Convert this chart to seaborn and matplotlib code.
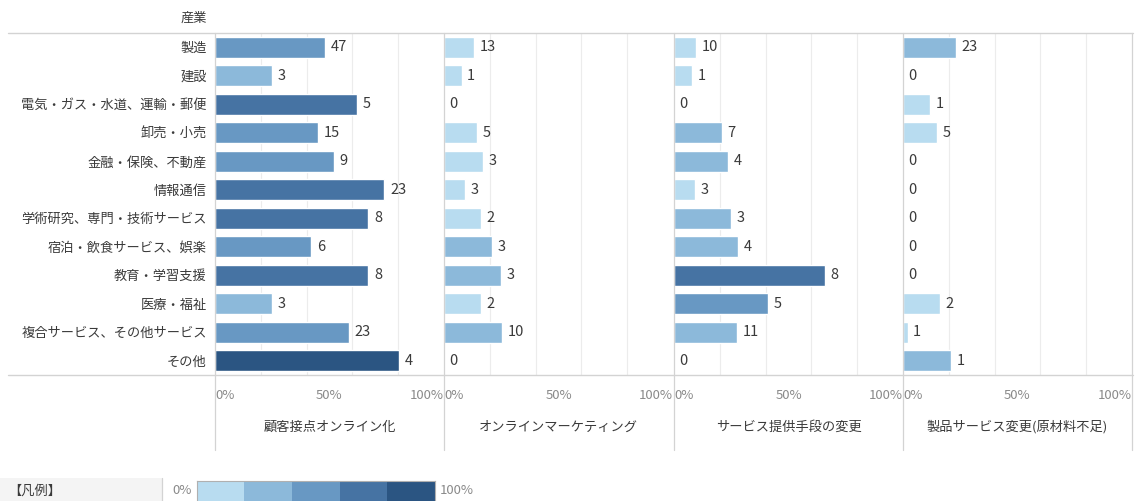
import matplotlib
matplotlib.use("Agg")
import matplotlib.pyplot as plt
from matplotlib.lines import Line2D
from matplotlib.patches import Rectangle
from matplotlib.colors import ListedColormap
import numpy as np
import pandas as pd
import seaborn as sns

sns.set_style("white")
plt.rcParams["font.family"] = ["Noto Sans CJK JP", "DejaVu Sans"]

# ---- data -------------------------------------------------------------
industries = [
    "製造", "建設", "電気・ガス・水道、運輸・郵便", "卸売・小売", "金融・保険、不動産",
    "情報通信", "学術研究、専門・技術サービス", "宿泊・飲食サービス、娯楽", "教育・学習支援",
    "医療・福祉", "複合サービス、その他サービス", "その他",
]
panel_titles = ["顧客接点オンライン化", "オンラインマーケティング", "サービス提供手段の変更", "製品サービス変更(原材料不足)"]

# counts shown next to each bar
counts_online = [47, 3, 5, 15, 9, 23, 8, 6, 8, 3, 23, 4]
counts_marketing = [13, 1, 0, 5, 3, 3, 2, 3, 3, 2, 10, 0]
counts_delivery = [10, 1, 0, 7, 4, 3, 3, 4, 8, 5, 11, 0]
counts_product = [23, 0, 1, 5, 0, 0, 0, 0, 0, 2, 1, 1]

# share within each industry (%), bar length
share_online = [48, 25, 62, 45, 52, 74, 67, 42, 67, 25, 58.5, 80.5]
share_marketing = [13, 7.7, 0, 14.5, 17, 9, 16, 21, 25, 16, 25.5, 0]
share_delivery = [9.6, 8, 0, 21, 23.6, 9, 25, 28, 66, 41, 27.5, 0]
share_product = [23, 0, 12, 15, 0, 0, 0, 0, 0, 16, 2, 21]

counts = [counts_online, counts_marketing, counts_delivery, counts_product]
shares = [share_online, share_marketing, share_delivery, share_product]

legend_colors = ["#b8dcf0", "#8cb9da", "#6898c3", "#4673a3", "#2b5582"]
bin_edges = [20, 40, 60, 80]

# ---- layout -----------------------------------------------------------
W, H = 1136, 501
fig = plt.figure(figsize=(W / 100, H / 100), dpi=100)

def fx(px):
    return px / W

def fy(py):
    return 1 - py / H

top_px, bottom_px = 33, 375
panel_left = [215, 444, 674, 903]
panel_w = 229
grid_c = "#ececec"
line_c = "#d3d3d3"
text_c = "#3a3a3a"
tick_c = "#8a8a8a"

for i in range(4):
    ax = fig.add_axes([fx(panel_left[i]), fy(bottom_px), fx(panel_w), (bottom_px - top_px) / H])
    df = pd.DataFrame({
        "industry": industries,
        "share": shares[i],
        "count": counts[i],
    })
    df["level"] = np.digitize(df["share"], bin_edges)
    palette = {k: legend_colors[k] for k in range(5)}
    sns.barplot(data=df, x="share", y="industry", hue="level", palette=palette,
                dodge=False, legend=False, width=0.74, saturation=1, ax=ax,
                orient="h", order=industries, hue_order=list(range(5)))
    for j, (s, c) in enumerate(zip(df["share"], df["count"])):
        ax.annotate(str(c), (s, j), xytext=(4, 0), textcoords="offset points",
                    ha="left", va="center", fontsize=10.5, color=text_c)
    ax.set_xlim(0, 100)
    ax.set_ylim(len(industries) - 0.5, -0.5)
    ax.set_xlabel("")
    ax.set_ylabel("")
    for g in [20, 40, 60, 80]:
        ax.axvline(g, color=grid_c, lw=0.8, zorder=0)
    for sp in ax.spines.values():
        sp.set_visible(False)
    ax.set_xticks([0, 50, 100])
    ax.set_xticklabels(["0%", "50%", "100%"], fontsize=9.5, color=tick_c)
    for lbl, ha in zip(ax.get_xticklabels(), ["left", "center", "right"]):
        lbl.set_ha(ha)
    ax.tick_params(axis="x", length=0, pad=10)
    if i == 0:
        ax.set_yticks(range(len(industries)))
        ax.set_yticklabels(industries, fontsize=9.5, color=text_c)
        ax.tick_params(axis="y", length=0, pad=6)
    else:
        ax.set_yticks([])
    fig.text(fx(panel_left[i] + panel_w / 2), fy(427), panel_titles[i],
             ha="center", va="center", fontsize=9.5, color=text_c)

# header and frame lines
fig.text(fx(207), fy(18), "産業", ha="right", va="center", fontsize=9.5, color=text_c)
for y in (top_px, bottom_px):
    fig.add_artist(Line2D([fx(8), fx(1133)], [fy(y), fy(y)], color=line_c, lw=1))
for x in panel_left + [panel_left[-1] + panel_w]:
    fig.add_artist(Line2D([fx(x), fx(x)], [fy(top_px), fy(450)], color=line_c, lw=0.9))

# colour legend
fig.add_artist(Rectangle((0, fy(501)), fx(162), fy(478) - fy(501), color="#f4f4f4", lw=0))
fig.add_artist(Line2D([fx(162), fx(162)], [fy(478), fy(501)], color=line_c, lw=0.9))
fig.text(fx(8), fy(491), "【凡例】", ha="left", va="center", fontsize=9.5, color=text_c)
fig.text(fx(192), fy(491), "0%", ha="right", va="center", fontsize=9.5, color=tick_c)
fig.text(fx(440), fy(491), "100%", ha="left", va="center", fontsize=9.5, color=tick_c)
lax = fig.add_axes([fx(197), fy(503), fx(238), (503 - 481) / H])
lax.imshow(np.arange(5).reshape(1, 5), cmap=ListedColormap(legend_colors), aspect="auto")
lax.set_xticks([])
lax.set_yticks([])
for sp in lax.spines.values():
    sp.set_color("#b0b0b0")
    sp.set_linewidth(0.8)

fig.savefig("out.png", dpi=100)
